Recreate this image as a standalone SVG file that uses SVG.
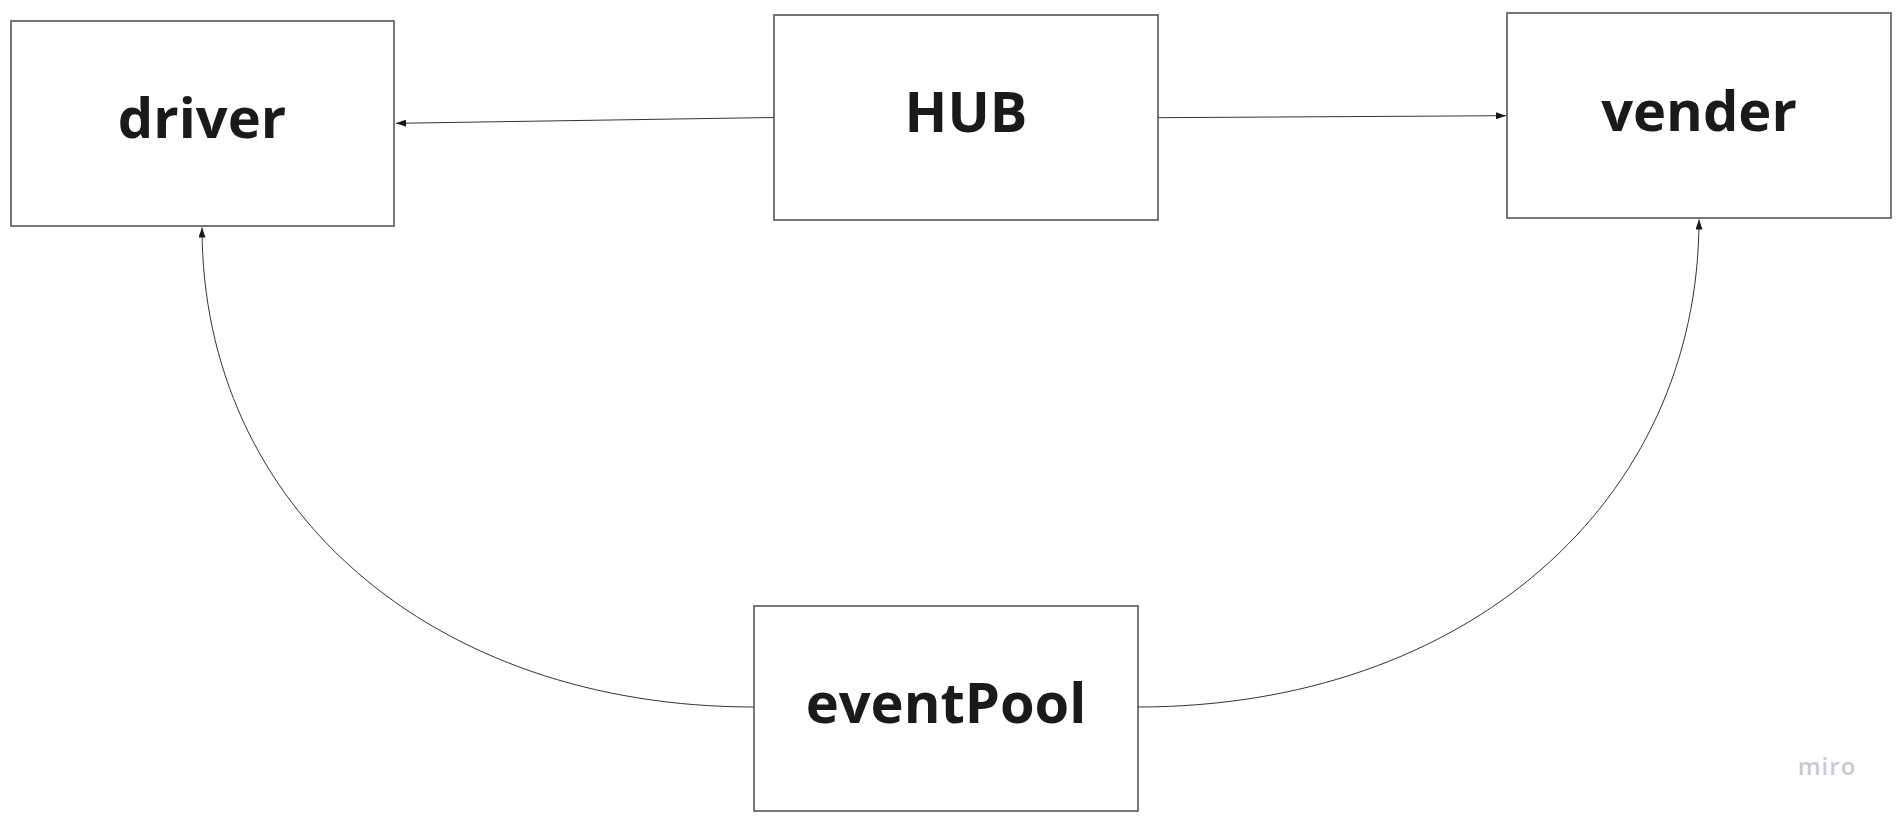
<svg xmlns="http://www.w3.org/2000/svg" width="1902" height="821" viewBox="0 0 1902 821">
<style>
.box{fill:#ffffff;stroke:#555555;stroke-width:1.6}
.lbl{font-family:"Open Sans","Noto Sans",sans-serif;font-weight:700;font-size:56px;fill:#1a1a1a;text-anchor:middle}
.con{fill:none;stroke:#333333;stroke-width:1}
.logo{font-family:"Open Sans","Noto Sans",sans-serif;font-weight:600;font-size:24px;fill:#c9c9d6;text-anchor:middle;letter-spacing:1px}
</style>
<defs>
<marker id="arr" markerUnits="userSpaceOnUse" markerWidth="11" markerHeight="7" refX="10" refY="3.5" orient="auto">
<path d="M0,0 L10,3.5 L0,7 z" fill="#1a1a1a"/>
</marker>
</defs>
<rect width="1902" height="821" fill="#ffffff"/>
<g id="connectors">
<path class="con" d="M774,117.5 L396,123.3" marker-end="url(#arr)"/>
<path class="con" d="M1158,117.7 L1506,115.7" marker-end="url(#arr)"/>
<path class="con" d="M754,707 C432,707 202,508 202,227.5" marker-end="url(#arr)"/>
<path class="con" d="M1138,707 C1465,707 1699,503 1699,219.5" marker-end="url(#arr)"/>
</g>
<g id="driver">
<rect class="box" x="11" y="21" width="383" height="205"/>
<text class="lbl" x="202" y="138">driver</text>
</g>
<g id="hub">
<rect class="box" x="774" y="15" width="384" height="205"/>
<text class="lbl" x="966" y="132">HUB</text>
</g>
<g id="vender">
<rect class="box" x="1507" y="13" width="384" height="205"/>
<text class="lbl" x="1699" y="130.5">vender</text>
</g>
<g id="eventPool">
<rect class="box" x="754" y="606" width="384" height="205"/>
<text class="lbl" x="946" y="723">eventPool</text>
</g>
<text class="logo" x="1827" y="775">miro</text>
</svg>
